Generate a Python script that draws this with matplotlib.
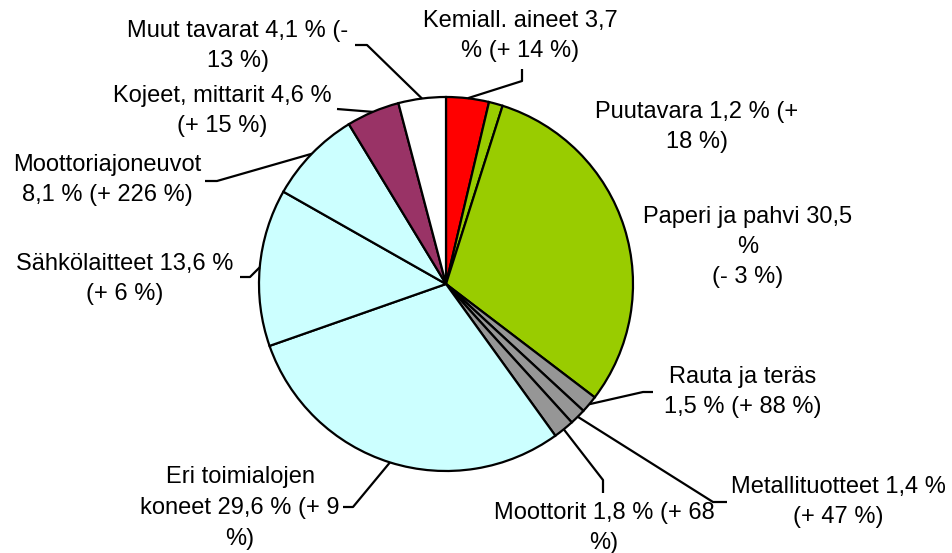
import matplotlib
matplotlib.use('Agg')
import matplotlib.pyplot as plt
import numpy as np

# Tuonnin rakenne: osuus % ja muutos %
categories = ['Kemiall. aineet', 'Puutavara', 'Paperi ja pahvi', 'Rauta ja teräs',
              'Metallituotteet', 'Moottorit', 'Eri toimialojen koneet', 'Sähkölaitteet',
              'Moottoriajoneuvot', 'Kojeet, mittarit', 'Muut tavarat']
shares = [3.7, 1.2, 30.5, 1.5, 1.4, 1.8, 29.6, 13.6, 8.1, 4.6, 4.1]
labels = ['Kemiall. aineet 3,7\n% (+ 14 %)',
          'Puutavara 1,2 % (+\n18 %)',
          'Paperi ja pahvi 30,5\n%\n(- 3 %)',
          'Rauta ja teräs\n1,5 % (+ 88 %)',
          'Metallituotteet 1,4 %\n(+ 47 %)',
          'Moottorit 1,8 % (+ 68\n%)',
          'Eri toimialojen\nkoneet 29,6 % (+ 9\n%)',
          'Sähkölaitteet 13,6 %\n(+ 6 %)',
          'Moottoriajoneuvot\n8,1 % (+ 226 %)',
          'Kojeet, mittarit 4,6 %\n(+ 15 %)',
          'Muut tavarat 4,1 % (-\n13 %)']
colors = ['#FF0000', '#99CC00', '#99CC00', '#969696', '#969696', '#969696',
          '#CCFFFF', '#CCFFFF', '#CCFFFF', '#993366', '#FFFFFF']

# label layout (pixel coords, y down): text centre, leader elbow, leader end
text_pos = [(520, 36), (697, 127), (748, 247), (743, 392), (838, 502), (604, 528),
            (240, 508), (125, 279), (107, 180), (222, 111), (238, 46)]
elbow = [(522, 81), None, None, (643, 392), (713, 502), (603, 480),
         (353, 507), (250, 277), (217, 181), (337, 109), (367, 45)]
lend = [(522, 69), None, None, (653, 392), (727, 502), (603, 493),
        (343, 507), (240, 277), (205, 181), (337, 109), (355, 45)]

cx, cy, r = 446, 284, 187

fig = plt.figure(figsize=(9.52, 5.53), dpi=100)
ax = fig.add_axes([0, 0, 1, 1])
wedges, _ = ax.pie(shares, colors=colors, center=(cx, cy), radius=r,
                   startangle=-90, counterclock=True,
                   wedgeprops=dict(edgecolor='black', linewidth=1.6))
ax.set_xlim(0, 952)
ax.set_ylim(553, 0)
ax.set_aspect('equal')
ax.axis('off')

for i, w in enumerate(wedges):
    if elbow[i] is not None:
        th = np.deg2rad((w.theta1 + w.theta2) / 2)
        x0, y0 = cx + r * np.cos(th), cy + r * np.sin(th)
        ax.plot([x0, elbow[i][0], lend[i][0]], [y0, elbow[i][1], lend[i][1]],
                color='black', linewidth=1.6, solid_capstyle='butt')
    ax.text(text_pos[i][0], text_pos[i][1], labels[i], ha='center', va='center',
            fontsize=17, family='Liberation Sans', linespacing=1.5)

plt.savefig('out.png', dpi=100)
